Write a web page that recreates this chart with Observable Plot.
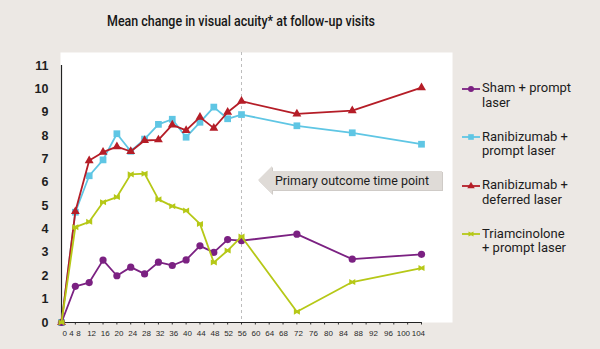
<!DOCTYPE html>
<html>
<head>
<meta charset="utf-8">
<script src="https://cdn.jsdelivr.net/npm/d3@7"></script>
<script src="https://cdn.jsdelivr.net/npm/@observablehq/plot@0.6"></script>
<style>
  html, body { margin: 0; padding: 0; background: #ece8e4; }
  #wrap { position: relative; width: 600px; height: 349px; background: #ece8e4; overflow: hidden;
          font-family: Roboto, "Liberation Sans", sans-serif; color: #1c1c1c; }
  #title { position: absolute; left: 107px; top: 13px; font-size: 14px; font-weight: 500; white-space: nowrap; line-height: 16px; transform-origin: 0 50%; color: #161616; }
  #chart { position: absolute; left: 0; top: 0; }
  .legsym { position: absolute; left: 462px; width: 18px; height: 12px; }
  .legtxt { position: absolute; left: 482px; font-size: 13px; line-height: 14.5px; white-space: nowrap; }
</style>
</head>
<body>
<div id="wrap">
  <div id="chart"></div>
  <div id="title">Mean change in visual acuity* at follow-up visits</div>
</div>
<script>
// ---- data ----
const weeks = [0, 4, 8, 12, 16, 20, 24, 28, 32, 36, 40, 44, 48, 52, 68, 84, 104];
const sham         = [0, 1.55, 1.71, 2.67, 2.00, 2.37, 2.08, 2.58, 2.44, 2.68, 3.28, 3.00, 3.55, 3.50, 3.78, 2.71, 2.92];
const raniPrompt   = [0, 4.72, 6.28, 6.96, 8.08, 7.33, 7.85, 8.48, 8.70, 7.93, 8.57, 9.22, 8.72, 8.90, 8.42, 8.12, 7.63];
const raniDeferred = [0, 4.75, 6.93, 7.29, 7.53, 7.32, 7.79, 7.82, 8.46, 8.22, 8.79, 8.32, 9.00, 9.47, 8.93, 9.07, 10.05];
const triam        = [0, 4.08, 4.31, 5.15, 5.37, 6.34, 6.37, 5.27, 4.98, 4.79, 4.22, 2.57, 3.08, 3.68, 0.46, 1.73, 2.33];

const seriesNames = ["Sham + prompt laser", "Ranibizumab + prompt laser", "Ranibizumab + deferred laser", "Triamcinolone + prompt laser"];
const legendLines = [["Sham + prompt", "laser"], ["Ranibizumab +", "prompt laser"], ["Ranibizumab +", "deferred laser"], ["Triamcinolone", "+ prompt laser"]];
const seriesValues = [sham, raniPrompt, raniDeferred, triam];
const seriesColors = ["#7b2182", "#5fc6e4", "#b51d27", "#b6c817"];

const xTicks = d3.range(0, 105, 4);
const xTickLabels = ["0","4","8","12","16","20","24","28","32","36","40","44","48","52","56","60","64","68","72","76","80","84","88","92","96","100","104"];
const yTicks = [0,1,2,3,4,5,6,7,8,9,10,11];
const primaryWeek = [52];
const annotationText = "Primary outcome time point";

// ---- symbols ----
const bowtie = {
  draw(ctx, size) {
    const s = Math.sqrt(size) / 2;
    ctx.moveTo(-s, -s); ctx.lineTo(0, -s * 0.45); ctx.lineTo(s, -s);
    ctx.lineTo(s, s); ctx.lineTo(0, s * 0.45); ctx.lineTo(-s, s); ctx.closePath();
  }
};
const symbolTypes = [d3.symbolCircle, d3.symbolSquare, d3.symbolTriangle, bowtie];
const radii = [3.6, 3.8, 3.3, 3.4];

const rows = seriesNames.map((name, k) => weeks.map((w, i) => ({week: w, value: seriesValues[k][i], series: name})));

// printed axis labels sit slightly off the visit grid in the original graphic
const labelPos = d3.scaleLinear().domain([0, 8, 12, 68, 104]).range([0.9, 4.9, 8.7, 64.1, 103.1]);

const drawOrder = [1, 2, 0, 3];
const seriesMarks = drawOrder.flatMap(k => [
  Plot.line(rows[k], {x: "week", y: "value", stroke: seriesColors[k], strokeWidth: 1.8}),
  Plot.dot(rows[k], {x: "week", y: "value", fill: seriesColors[k], symbol: symbolTypes[k], r: radii[k]})
]);

const plot = Plot.plot({
  width: 600, height: 349,
  marginLeft: 61, marginRight: 179, marginTop: 65, marginBottom: 27,
  style: {background: "transparent", overflow: "visible", fontFamily: "'Liberation Sans', sans-serif"},
  x: {domain: [0, 104], axis: null, label: null},
  y: {domain: [0, 11], axis: null, label: null},
  marks: [
    Plot.frame({fill: "#ffffff", stroke: null, insetTop: -13, insetLeft: -1, insetRight: -31}),
    Plot.ruleX(primaryWeek, {stroke: "#bdbdbd", strokeWidth: 1, strokeDasharray: "3,3", insetTop: -13}),
    Plot.axisX({ticks: xTicks, tickSize: 2.5, tickFormat: () => "", label: null, stroke: "#333"}),
    Plot.text(xTickLabels, {x: d => labelPos(+d), text: d => d, frameAnchor: "bottom", dy: 13.5, fontSize: 8, fill: "#2a2a2a"}),
    Plot.text(yTicks, {y: d => d, text: d => String(d), frameAnchor: "left", dx: -13, textAnchor: "end", fontSize: 12.5, fontWeight: "bold", fill: "#1e1e1e"}),
    Plot.ruleY([0], {stroke: "#222", strokeWidth: 1.2}),
    Plot.ruleX([0], {stroke: "#222", strokeWidth: 1.2}),
    ...seriesMarks
  ]
});
document.getElementById("chart").appendChild(plot);

// ---- annotation arrow ----
const svg = d3.select(plot);
const ann = svg.append("g").attr("class", "annotation");
ann.append("path")
  .attr("d", "M259,181 L273,167 L273,172 L443,172 L443,191 L273,191 L273,195 Z")
  .attr("fill", "#cfcbc7");
ann.append("path")
  .attr("d", "M258,180 L272,166 L272,171 L442,171 L442,190 L272,190 L272,194 Z")
  .attr("fill", "#dfdbd7");
ann.append("text")
  .attr("x", 275).attr("y", 185)
  .attr("text-anchor", "start")
  .attr("font-family", "Roboto, sans-serif")
  .attr("font-size", 13.5)
  .attr("fill", "#1c1c1c")
  .attr("textLength", 154).attr("lengthAdjust", "spacingAndGlyphs")
  .text(annotationText);

// ---- title width fit ----
const title = document.getElementById("title");
const tw = title.getBoundingClientRect().width;
title.style.transform = `scaleX(${268 / tw})`;

// ---- legend ----
const wrap = document.getElementById("wrap");
seriesNames.forEach((name, k) => {
  const cy = 88.5 + k * 48.5;
  const sym = d3.create("svg").attr("class", "legsym").attr("width", 18).attr("height", 12)
    .style("top", (cy - 6) + "px");
  sym.append("line").attr("x1", 0).attr("x2", 18).attr("y1", 6).attr("y2", 6)
    .attr("stroke", seriesColors[k]).attr("stroke-width", 1.8);
  sym.append("path").attr("transform", "translate(9,6)")
    .attr("d", d3.symbol(symbolTypes[k], Math.PI * radii[k] * radii[k] * 0.7)())
    .attr("fill", seriesColors[k]);
  wrap.appendChild(sym.node());
  const div = document.createElement("div");
  div.className = "legtxt";
  div.style.top = (cy - 7.5) + "px";
  legendLines[k].forEach((s, j) => {
    if (j) div.appendChild(document.createElement("br"));
    div.appendChild(document.createTextNode(s));
  });
  wrap.appendChild(div);
});
</script>
</body>
</html>
